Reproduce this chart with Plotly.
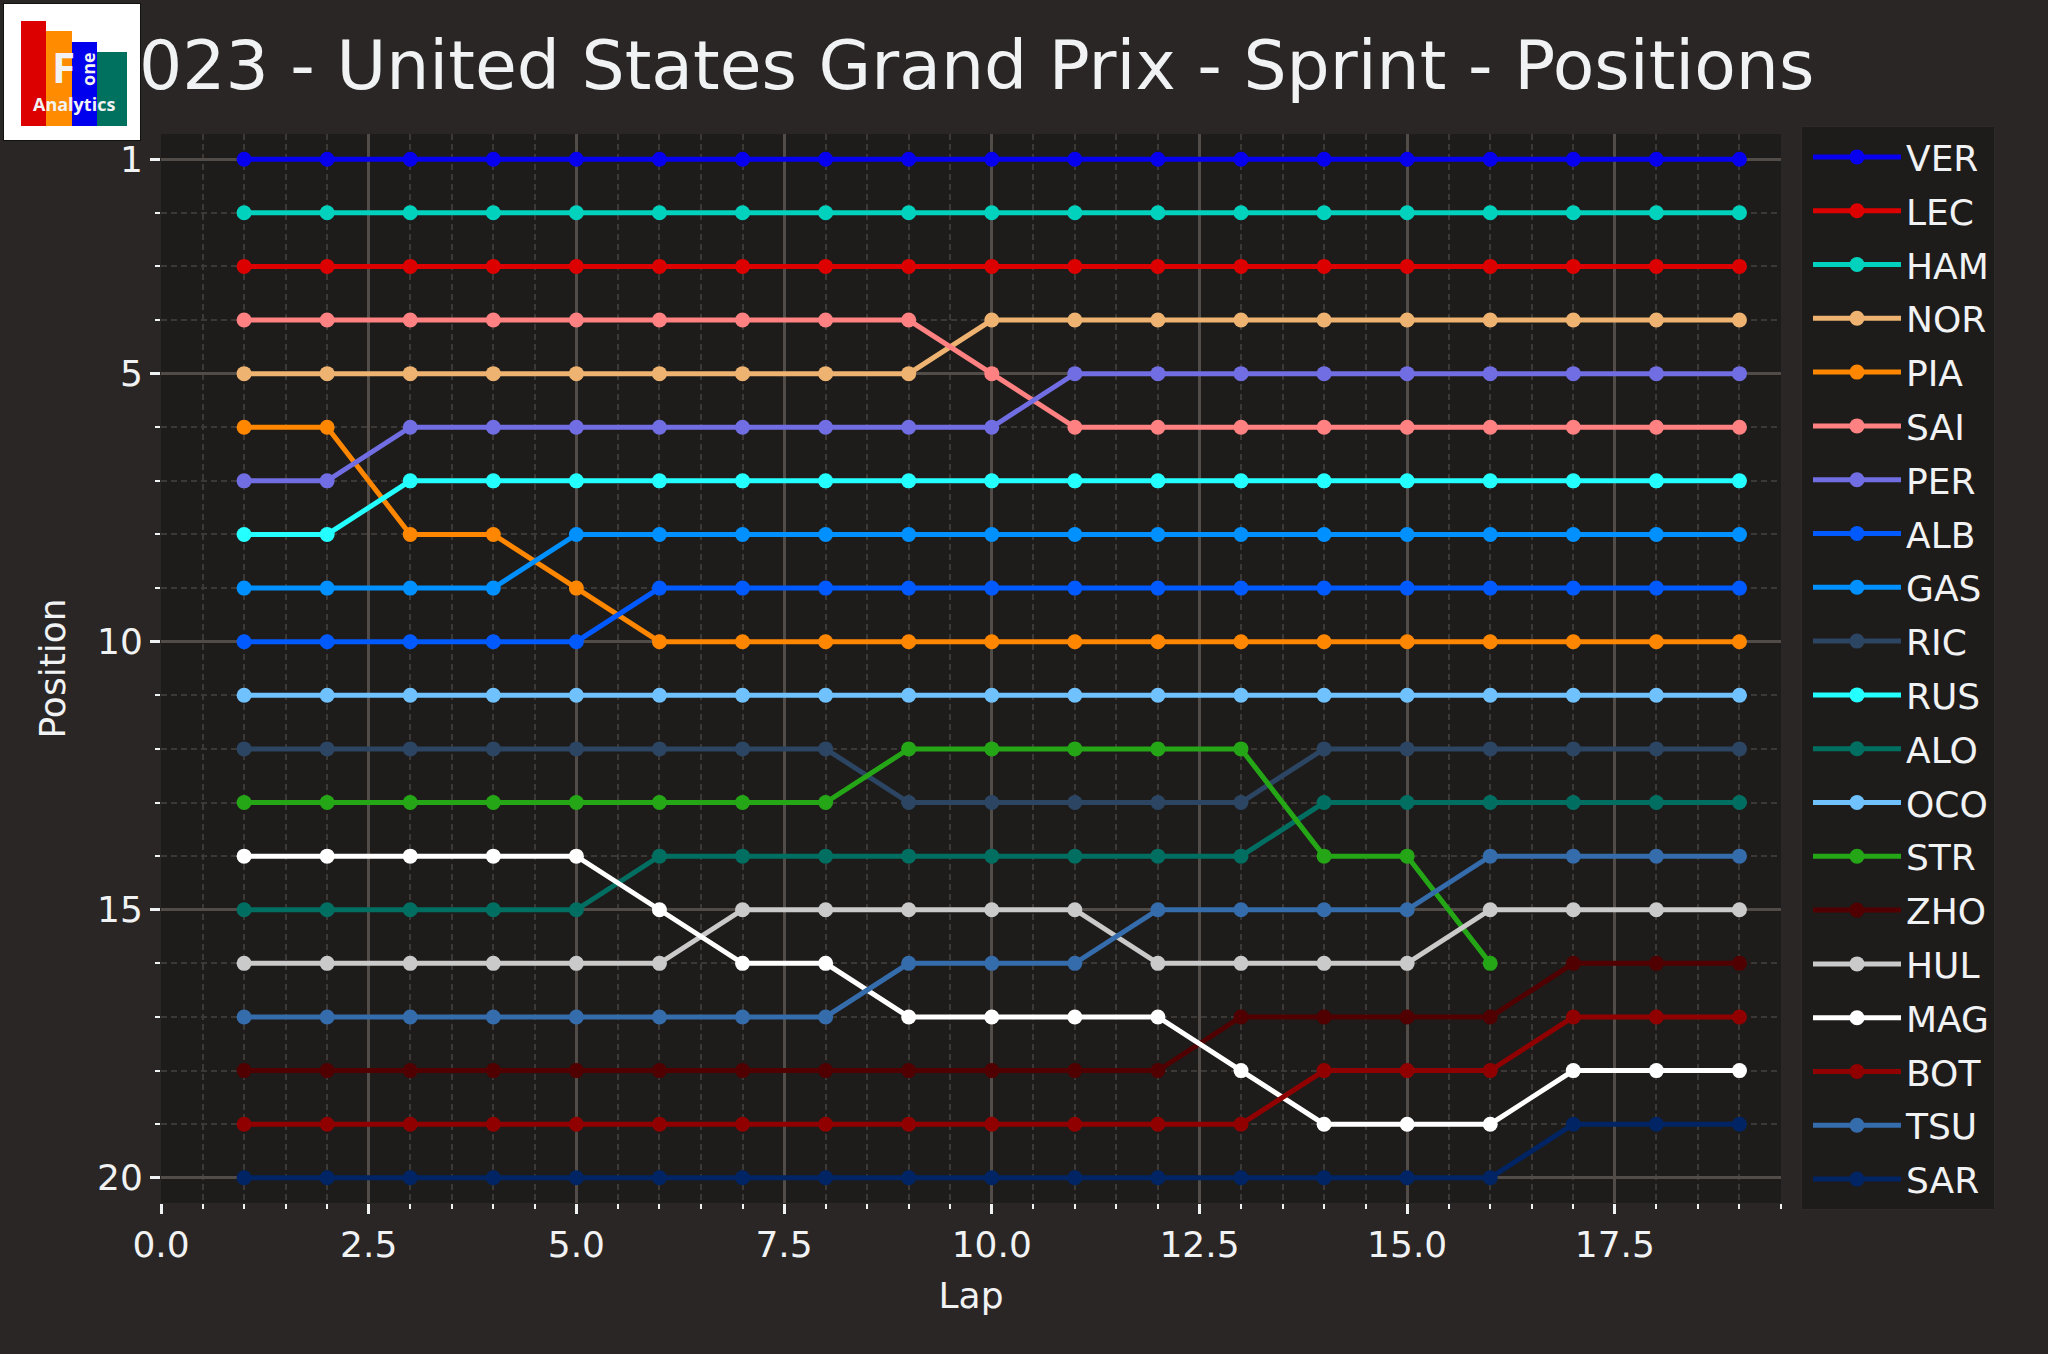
import plotly.graph_objects as go

# figure geometry (px)
W, H = 2048, 1354
PLOT_L, PLOT_R, PLOT_T, PLOT_B = 161, 1781, 134, 1203

TITLE = "2023 - United States Grand Prix - Sprint - Positions"
FONT = "DejaVu Sans"
TXT = "#f1f2f3"

laps = list(range(1, 20))

drivers = ["VER", "LEC", "HAM", "NOR", "PIA", "SAI", "PER", "ALB", "GAS", "RIC",
           "RUS", "ALO", "OCO", "STR", "ZHO", "HUL", "MAG", "BOT", "TSU", "SAR"]

driver_colors = ["#0600ef", "#dc0000", "#00d2be", "#eeb370", "#ff8700", "#ff8181",
                 "#716de2", "#005aff", "#0090ff", "#2b4562", "#24ffff", "#006f62",
                 "#70c2ff", "#25a617", "#500000", "#cacaca", "#ffffff", "#900000",
                 "#356cac", "#012564"]

pos_ver = [1, 1, 1, 1, 1, 1, 1, 1, 1, 1, 1, 1, 1, 1, 1, 1, 1, 1, 1]
pos_lec = [3, 3, 3, 3, 3, 3, 3, 3, 3, 3, 3, 3, 3, 3, 3, 3, 3, 3, 3]
pos_ham = [2, 2, 2, 2, 2, 2, 2, 2, 2, 2, 2, 2, 2, 2, 2, 2, 2, 2, 2]
pos_nor = [5, 5, 5, 5, 5, 5, 5, 5, 5, 4, 4, 4, 4, 4, 4, 4, 4, 4, 4]
pos_pia = [6, 6, 8, 8, 9, 10, 10, 10, 10, 10, 10, 10, 10, 10, 10, 10, 10, 10, 10]
pos_sai = [4, 4, 4, 4, 4, 4, 4, 4, 4, 5, 6, 6, 6, 6, 6, 6, 6, 6, 6]
pos_per = [7, 7, 6, 6, 6, 6, 6, 6, 6, 6, 5, 5, 5, 5, 5, 5, 5, 5, 5]
pos_alb = [10, 10, 10, 10, 10, 9, 9, 9, 9, 9, 9, 9, 9, 9, 9, 9, 9, 9, 9]
pos_gas = [9, 9, 9, 9, 8, 8, 8, 8, 8, 8, 8, 8, 8, 8, 8, 8, 8, 8, 8]
pos_ric = [12, 12, 12, 12, 12, 12, 12, 12, 13, 13, 13, 13, 13, 12, 12, 12, 12, 12, 12]
pos_rus = [8, 8, 7, 7, 7, 7, 7, 7, 7, 7, 7, 7, 7, 7, 7, 7, 7, 7, 7]
pos_alo = [15, 15, 15, 15, 15, 14, 14, 14, 14, 14, 14, 14, 14, 13, 13, 13, 13, 13, 13]
pos_oco = [11, 11, 11, 11, 11, 11, 11, 11, 11, 11, 11, 11, 11, 11, 11, 11, 11, 11, 11]
pos_str = [13, 13, 13, 13, 13, 13, 13, 13, 12, 12, 12, 12, 12, 14, 14, 16]
pos_zho = [18, 18, 18, 18, 18, 18, 18, 18, 18, 18, 18, 18, 17, 17, 17, 17, 16, 16, 16]
pos_hul = [16, 16, 16, 16, 16, 16, 15, 15, 15, 15, 15, 16, 16, 16, 16, 15, 15, 15, 15]
pos_mag = [14, 14, 14, 14, 14, 15, 16, 16, 17, 17, 17, 17, 18, 19, 19, 19, 18, 18, 18]
pos_bot = [19, 19, 19, 19, 19, 19, 19, 19, 19, 19, 19, 19, 19, 18, 18, 18, 17, 17, 17]
pos_tsu = [17, 17, 17, 17, 17, 17, 17, 17, 16, 16, 16, 15, 15, 15, 15, 14, 14, 14, 14]
pos_sar = [20, 20, 20, 20, 20, 20, 20, 20, 20, 20, 20, 20, 20, 20, 20, 20, 19, 19, 19]

positions = [pos_ver, pos_lec, pos_ham, pos_nor, pos_pia, pos_sai, pos_per, pos_alb,
             pos_gas, pos_ric, pos_rus, pos_alo, pos_oco, pos_str, pos_zho, pos_hul,
             pos_mag, pos_bot, pos_tsu, pos_sar]

y_ticks = [1, 5, 10, 15, 20]


def px(x):
    return (x - PLOT_L) / (PLOT_R - PLOT_L)


def py(y):
    return (PLOT_B - y) / (PLOT_B - PLOT_T)


fig = go.Figure()
for drv, col, pos in zip(drivers, driver_colors, positions):
    fig.add_trace(go.Scatter(
        x=laps[:len(pos)], y=pos, name=drv, legendgroup=drv,
        mode="lines+markers",
        line=dict(color=col, width=5),
        marker=dict(color=col, size=15),
    ))

# logo in the top-left corner (annotation boxes so it sits above the title)
logo = []
logo.append(dict(x=px(3), y=py(3), text=" ", width=136, height=136,
                 bgcolor="white", bordercolor="#111111", borderwidth=1))
for x0, x1, top, c in [(21, 46, 21, "#dc0000"), (46, 72, 31, "#ff8c00"),
                       (72, 97, 42, "#0000ee"), (97, 127, 52, "#00705f")]:
    logo.append(dict(x=px(x0), y=py(top), text=" ", width=x1 - x0, height=126 - top,
                     bgcolor=c, borderwidth=0))
annotations = []
for a in logo:
    a.update(xref="paper", yref="paper", xanchor="left", yanchor="top",
             showarrow=False, borderpad=0, font=dict(size=2))
    annotations.append(a)
annotations.append(dict(x=px(63), y=py(67), text="<b>F</b>", xref="paper", yref="paper",
                        showarrow=False, xanchor="center", yanchor="middle",
                        font=dict(family="Open Sans", size=42, color="#f2f2f2")))
annotations.append(dict(x=px(88), y=py(69), text="<b>one</b>", textangle=-90,
                        xref="paper", yref="paper", showarrow=False,
                        xanchor="center", yanchor="middle",
                        font=dict(family="Open Sans", size=18, color="#f2f2f2")))
annotations.append(dict(x=px(74), y=py(104), text="<b>Analytics</b>", xref="paper",
                        yref="paper", showarrow=False, xanchor="center", yanchor="middle",
                        font=dict(family="Open Sans", size=18, color="#f2f2f2")))

fig.update_layout(
    width=W, height=H,
    margin=dict(l=PLOT_L, r=W - PLOT_R, t=PLOT_T, b=H - PLOT_B, autoexpand=False),
    paper_bgcolor="#292625",
    plot_bgcolor="#1e1c1b",
    font=dict(family=FONT, size=36, color=TXT),
    title=dict(text=TITLE, x=px(955), xref="paper", xanchor="center",
               y=1 - 65 / H, yref="container", yanchor="middle",
               font=dict(family=FONT, size=68, color=TXT)),
    legend=dict(x=px(1801), y=py(126), xanchor="left", yanchor="top",
                bgcolor="#1e1c1b", bordercolor="#2d2928", borderwidth=1,
                font=dict(family=FONT, size=36, color=TXT),
                itemwidth=88, indentation=6, tracegroupgap=4, maxheight=1250),
    annotations=annotations,
    showlegend=True,
)

fig.update_xaxes(
    range=[0, 19.5], tick0=0, dtick=2.5, tickformat=".1f",
    showgrid=True, gridcolor="#524c49", gridwidth=3,
    zeroline=False, showline=False,
    ticks="outside", ticklen=10, tickwidth=3, tickcolor=TXT,
    tickfont=dict(size=36, color=TXT),
    minor=dict(dtick=0.5, tick0=0, showgrid=True, gridcolor="#3c3836",
               griddash="6px,4px", gridwidth=1.5, ticks="outside", ticklen=5,
               tickwidth=2, tickcolor=TXT),
    title=dict(text="Lap", font=dict(size=36, color=TXT), standoff=18),
)
fig.update_yaxes(
    range=[20.47, 0.53], tickmode="array", tickvals=y_ticks,
    showgrid=True, gridcolor="#524c49", gridwidth=3,
    zeroline=False, showline=False,
    ticks="outside", ticklen=10, tickwidth=3, tickcolor=TXT,
    tickfont=dict(size=36, color=TXT),
    minor=dict(dtick=1, tick0=0, showgrid=True, gridcolor="#3c3836",
               griddash="6px,4px", gridwidth=1.5, ticks="outside", ticklen=5,
               tickwidth=2, tickcolor=TXT),
    title=dict(text="Position", font=dict(size=36, color=TXT), standoff=20),
)

fig.write_html("out.html", config={"displayModeBar": False},
               post_script="document.body.style.margin='0';")
